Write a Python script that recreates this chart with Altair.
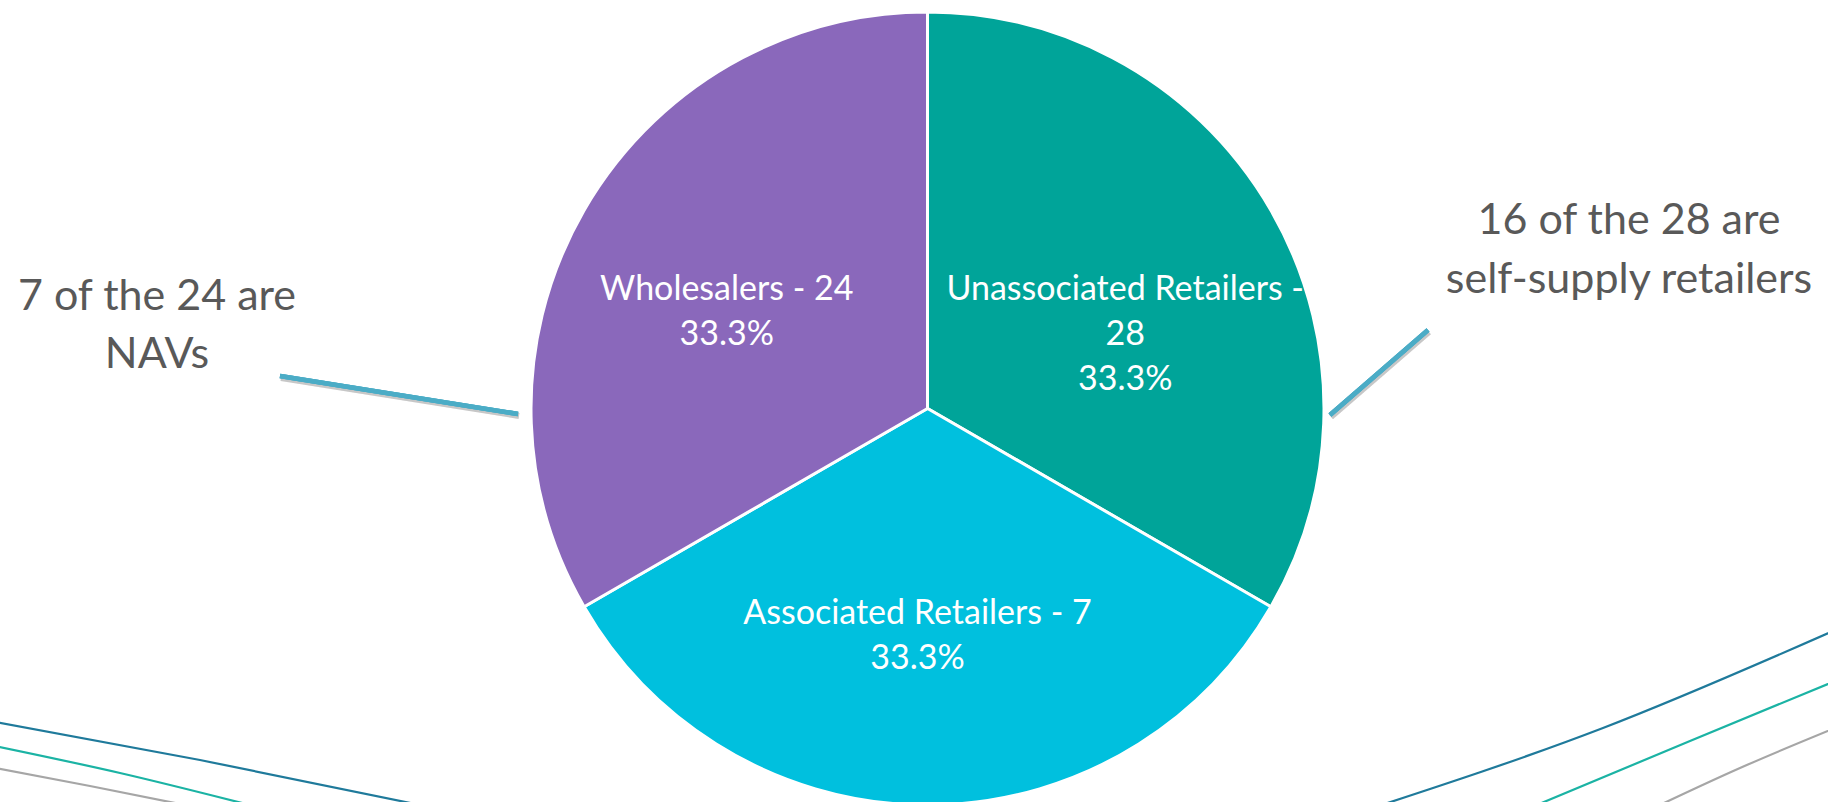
import textwrap
import altair as alt
import pandas as pd

# ---- pie data ----
categories = ["Unassociated Retailers", "Associated Retailers", "Wholesalers"]
counts = [28, 7, 24]
shares = [33.3, 33.3, 33.3]
slice_colors = ["#00A499", "#00C0DE", "#8A68BB"]

# ---- call-out annotations ----
note_left = ["7 of the 24 are", "NAVs"]
note_right = ["16 of the 28 are", "self-supply retailers"]

# ---- decorative background curves (pixel space of the slide) ----
curve_id = ["L1"] * 3 + ["L2"] * 3 + ["L3"] * 3 + ["R1"] * 3 + ["R2"] * 3 + ["R3"] * 3
curve_kind = ["dark"] * 3 + ["teal"] * 3 + ["grey"] * 3 + ["dark"] * 3 + ["teal"] * 3 + ["grey"] * 3
curve_x = [-10, 200, 420, -10, 120, 250, -10, 90, 190,
           1360, 1603, 1840, 1520, 1690, 1840, 1645, 1740, 1840]
curve_y = [721, 760, 805, 745, 773, 805, 767, 786, 806,
           812, 728, 628, 812, 741, 679, 812, 768, 726]

labels = []
for c, n, s in zip(categories, counts, shares):
    first = "\n".join(textwrap.wrap(f"{c} - {n}", 24))
    labels.append(f"{first}\n{s}%")

pie_df = pd.DataFrame({
    "idx": list(range(len(categories))),
    "category": categories,
    "count": counts,
    "share": shares,
    "label": labels,
})
decor_df = pd.DataFrame({"curve": curve_id, "kind": curve_kind, "x": curve_x, "y": curve_y})

W, H = 1828, 802
CX, CY, R = 927.5, 408.5, 396.5
FONT = "Lato"
GREY_TXT = "#595959"
LEADER = "#4BACC6"

xs = alt.Scale(domain=[0, W], nice=False, zero=False)
ys = alt.Scale(domain=[0, H], reverse=True, nice=False, zero=False)

decor = alt.Chart(decor_df).mark_line(clip=True, strokeWidth=2.2, interpolate="monotone").encode(
    x=alt.X("x:Q", scale=xs, axis=None),
    y=alt.Y("y:Q", scale=ys, axis=None),
    detail="curve:N",
    stroke=alt.Stroke("kind:N", scale=alt.Scale(domain=["dark", "teal", "grey"],
                                                 range=["#1F7A9B", "#1BB3A4", "#A6A6A6"]), legend=None),
)

pie_base = alt.Chart(pie_df).encode(
    theta=alt.Theta("share:Q", stack=True),
    order=alt.Order("idx:Q"),
    x=alt.value(CX),
    y=alt.value(CY),
)
arcs = pie_base.mark_arc(radius=R, stroke="white", strokeWidth=3).encode(
    color=alt.Color("category:N", scale=alt.Scale(domain=categories, range=slice_colors), legend=None)
)

# small per-slice nudges of the data labels (as the original chart placed them)
nudges = {"Unassociated Retailers": (2, 4), "Associated Retailers": (-10, -11), "Wholesalers": (-5, 4)}
text_layers = []
for cat in categories:
    ndx, ndy = nudges[cat]
    text_layers.append(
        pie_base.mark_text(
            radius=226, dx=ndx, dy=ndy, font=FONT, fontSize=34, color="white", lineBreak="\n",
            lineHeight=45, align="center", baseline="alphabetic",
        ).encode(
            text="label:N",
            opacity=alt.condition(alt.datum.category == cat, alt.value(1), alt.value(0)),
        )
    )


def leader(x1, y1, x2, y2):
    shadow = alt.Chart(pie_df).mark_rule(color="#000000", opacity=0.08, strokeWidth=6).encode(
        x=alt.value(x1 + 1), y=alt.value(y1 + 2), x2=alt.value(x2 + 1), y2=alt.value(y2 + 2))
    line = alt.Chart(pie_df).mark_rule(color=LEADER, strokeWidth=4.5).encode(
        x=alt.value(x1), y=alt.value(y1), x2=alt.value(x2), y2=alt.value(y2))
    return shadow + line


leaders = leader(280, 376, 518, 414) + leader(1330, 415, 1428, 330)

note_l = alt.Chart(pd.DataFrame({"t": ["\n".join(note_left)]})).mark_text(
    font=FONT, fontSize=43, color=GREY_TXT, lineBreak="\n", lineHeight=58,
    align="center", baseline="alphabetic",
).encode(text="t:N", x=alt.value(157), y=alt.value(310))

note_r = alt.Chart(pd.DataFrame({"t": ["\n".join(note_right)]})).mark_text(
    font=FONT, fontSize=43, color=GREY_TXT, lineBreak="\n", lineHeight=59,
    align="center", baseline="alphabetic",
).encode(text="t:N", x=alt.value(1629), y=alt.value(234))

chart = alt.layer(decor, arcs, *text_layers, leaders, note_l, note_r).properties(
    width=W, height=H, padding=0, autosize=alt.AutoSizeParams(type="none"),
    background="white",
).configure_view(stroke=None)

chart.save("out.html", embed_options={"renderer": "svg", "actions": False})
